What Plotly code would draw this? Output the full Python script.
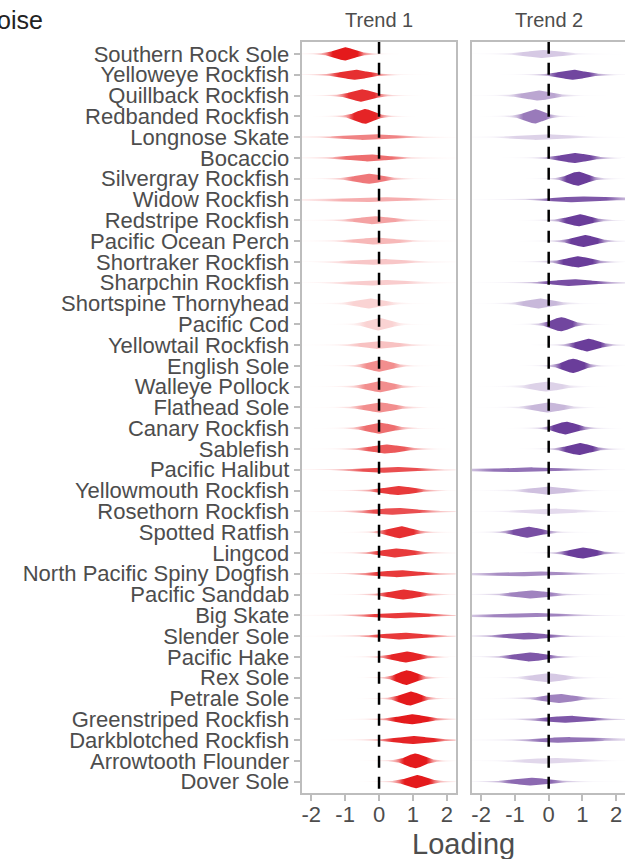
import numpy as np
import plotly.graph_objects as go

# Species, ordered top to bottom by their Trend 1 loading
species = [
    "Southern Rock Sole", "Yelloweye Rockfish", "Quillback Rockfish", "Redbanded Rockfish",
    "Longnose Skate", "Bocaccio", "Silvergray Rockfish", "Widow Rockfish",
    "Redstripe Rockfish", "Pacific Ocean Perch", "Shortraker Rockfish", "Sharpchin Rockfish",
    "Shortspine Thornyhead", "Pacific Cod", "Yellowtail Rockfish", "English Sole",
    "Walleye Pollock", "Flathead Sole", "Canary Rockfish", "Sablefish",
    "Pacific Halibut", "Yellowmouth Rockfish", "Rosethorn Rockfish", "Spotted Ratfish",
    "Lingcod", "North Pacific Spiny Dogfish", "Pacific Sanddab", "Big Skate",
    "Slender Sole", "Pacific Hake", "Rex Sole", "Petrale Sole",
    "Greenstriped Rockfish", "Darkblotched Rockfish", "Arrowtooth Flounder", "Dover Sole",
]

# Trend 1: posterior centre, spread and colour strength of each loading
t1_center = [-1.00, -0.71, -0.51, -0.41, -0.27, -0.30, -0.30, -0.12,
             -0.12, -0.07, -0.02, -0.02, -0.27, 0.00, 0.03, 0.03,
             0.03, 0.03, 0.03, 0.22, 0.32, 0.57, 0.52, 0.63,
             0.52, 0.62, 0.72, 0.67, 0.72, 0.80, 0.82, 0.92,
             0.97, 1.02, 1.07, 1.12]
t1_spread = [0.30, 0.40, 0.32, 0.27, 0.66, 0.57, 0.40, 0.80,
             0.50, 0.57, 0.66, 0.66, 0.40, 0.32, 0.50, 0.33,
             0.36, 0.40, 0.36, 0.44, 0.66, 0.44, 0.57, 0.33,
             0.44, 0.57, 0.40, 0.66, 0.57, 0.36, 0.27, 0.28,
             0.40, 0.50, 0.27, 0.30]
t1_shade = [1.00, 0.90, 0.90, 0.95, 0.50, 0.60, 0.55, 0.30,
            0.35, 0.25, 0.18, 0.15, 0.12, 0.12, 0.20, 0.45,
            0.45, 0.45, 0.60, 0.70, 0.75, 0.85, 0.75, 0.90,
            0.85, 0.85, 0.90, 0.85, 0.85, 0.95, 1.00, 1.00,
            1.00, 0.95, 1.00, 1.00]

# Trend 2
t2_center = [-0.17, 0.72, -0.31, -0.41, -0.17, 0.77, 0.87, 0.92,
             0.91, 1.06, 0.87, 0.72, -0.27, 0.37, 1.16, 0.72,
             -0.07, -0.02, 0.52, 0.91, -0.66, 0.00, 0.00, -0.61,
             1.01, -0.56, -0.51, -0.66, -0.66, -0.56, -0.02, 0.32,
             0.62, 0.52, 0.08, -0.51]
t2_spread = [0.50, 0.40, 0.40, 0.28, 0.66, 0.40, 0.28, 0.66,
             0.33, 0.33, 0.36, 0.57, 0.40, 0.28, 0.31, 0.28,
             0.40, 0.40, 0.31, 0.33, 0.80, 0.50, 0.66, 0.36,
             0.36, 0.80, 0.50, 0.80, 0.57, 0.44, 0.44, 0.44,
             0.57, 0.66, 0.66, 0.50]
t2_shade = [0.20, 0.95, 0.40, 0.65, 0.15, 0.95, 1.00, 0.85,
            1.00, 1.00, 1.00, 0.90, 0.30, 0.95, 1.00, 1.00,
            0.15, 0.30, 1.00, 1.00, 0.70, 0.25, 0.10, 0.90,
            1.00, 0.55, 0.60, 0.60, 0.80, 0.85, 0.20, 0.60,
            0.85, 0.70, 0.12, 0.75]

x_ticks = [-2, -1, 0, 1, 2]
panel_titles = ["Trend 1", "Trend 2"]

# colour ramps (light -> full) for each trend
ramps = [((253, 236, 236), (228, 26, 28)),
         ((241, 236, 246), (106, 61, 154))]

DF = 3.0                 # t-density degrees of freedom for the violin profile
PEAK = 0.3676            # peak of the unit t3 density
AREA = 0.26              # common violin area (scale = "area")
TEXT = "#4D4D4D"
FRAME = "#BDBDBD"


def mix(ramp, s):
    lo, hi = ramp
    return tuple(int(round(a + (b - a) * s)) for a, b in zip(lo, hi))


def violin(row, center, spread, shade, ramp, xa, ya):
    reach = 6.0 * spread
    x = np.linspace(center - reach, center + reach, 241)
    z = (x - center) / spread
    rel = (1.0 + z ** 2 / DF) ** (-(DF + 1) / 2)
    half = AREA * PEAK * rel / spread
    xs = np.concatenate([x, x[::-1], x[:1]])
    ys = np.concatenate([row - half, (row + half)[::-1], [row - half[0]]])
    r, g, b = mix(ramp, shade)
    # opacity ramps down along the thin tails
    pos = np.linspace(0, 1, 41)
    zz = (pos * 2 - 1) * reach / spread
    alpha = np.minimum(1.0, 2.5 * (1.0 + zz ** 2 / DF) ** (-(DF + 1) / 2))
    cscale = [[float(p), f"rgba({r},{g},{b},{a:.3f})"] for p, a in zip(pos, alpha)]
    return go.Scatter(
        x=xs, y=ys, mode="lines", fill="toself", line=dict(width=0),
        fillcolor=f"rgb({r},{g},{b})",
        fillgradient=dict(type="horizontal", colorscale=cscale,
                          start=center - reach, stop=center + reach),
        hoverinfo="skip", showlegend=False, xaxis=xa, yaxis=ya,
    )


rows = list(range(1, len(species) + 1))
fig = go.Figure()

for k, (cen, spr, shd, xa, ya) in enumerate([
        (t1_center, t1_spread, t1_shade, "x", "y"),
        (t2_center, t2_spread, t2_shade, "x2", "y2")]):
    for i, row in enumerate(rows):
        fig.add_trace(violin(row, cen[i], spr[i], shd[i], ramps[k], xa, ya))

y_lo, y_hi = 0.41, 36.56
for xa, ya in [("x", "y"), ("x2", "y2")]:
    fig.add_trace(go.Scatter(
        x=[0, 0], y=[y_lo, y_hi], mode="lines",
        line=dict(color="black", width=2.5, dash="12px,9px"),
        hoverinfo="skip", showlegend=False, xaxis=xa, yaxis=ya))

W, H = 625, 859
x_range = [-2.28, 2.26]
dom1 = [301.7 / W, 455.7 / W]
dom2 = [471.7 / W, 1.0]
ydom = [1 - 793.3 / H, 1 - 41.7 / H]

xcommon = dict(range=x_range, tickvals=x_ticks, ticktext=[str(v) for v in x_ticks],
               ticks="outside", ticklen=6, tickwidth=1.5, tickcolor=FRAME,
               tickfont=dict(size=22, color=TEXT, family="Liberation Sans"),
               ticklabelstandoff=-6,
               showgrid=False, zeroline=False, showline=True, mirror=True,
               linecolor=FRAME, linewidth=2, automargin=False, fixedrange=True)
ycommon = dict(range=[y_hi, y_lo], showgrid=False, zeroline=False, showline=True,
               mirror=True, linecolor=FRAME, linewidth=2, automargin=False,
               domain=ydom, fixedrange=True)

fig.update_layout(
    width=W, height=H, margin=dict(l=0, r=0, t=0, b=0),
    paper_bgcolor="white", plot_bgcolor="white",
    font=dict(family="Liberation Sans", color=TEXT),
    xaxis=dict(domain=dom1, anchor="y", **xcommon),
    xaxis2=dict(domain=dom2, anchor="y2", **xcommon),
    yaxis=dict(anchor="x", tickvals=rows, ticktext=species, ticks="outside",
               ticklen=6, tickwidth=1.5, tickcolor=FRAME,
               tickfont=dict(size=22, color=TEXT, family="Liberation Sans"),
               **ycommon),
    yaxis2=dict(anchor="x2", showticklabels=False, ticks="", **ycommon),
)

annotations = [
    dict(text="Noise", x=45 / W, y=1 - 20 / H, xref="paper", yref="paper",
         xanchor="right", yanchor="middle", showarrow=False,
         font=dict(size=25, color="#222222", family="Liberation Sans")),
    dict(text="Loading", x=(dom1[0] + 625.7 / W) / 2, y=1 - 844 / H, xref="paper",
         yref="paper", xanchor="center", yanchor="middle", showarrow=False,
         font=dict(size=29, color=TEXT, family="Liberation Sans")),
]
for title, dom in zip(panel_titles, [dom1, [471.7 / W, 625.7 / W]]):
    annotations.append(dict(text=title, x=(dom[0] + dom[1]) / 2, y=1 - 20 / H,
                            xref="paper", yref="paper", xanchor="center",
                            yanchor="middle", showarrow=False,
                            font=dict(size=20, color=TEXT, family="Liberation Sans")))
fig.update_layout(annotations=annotations)

fig.write_html("out.html")
